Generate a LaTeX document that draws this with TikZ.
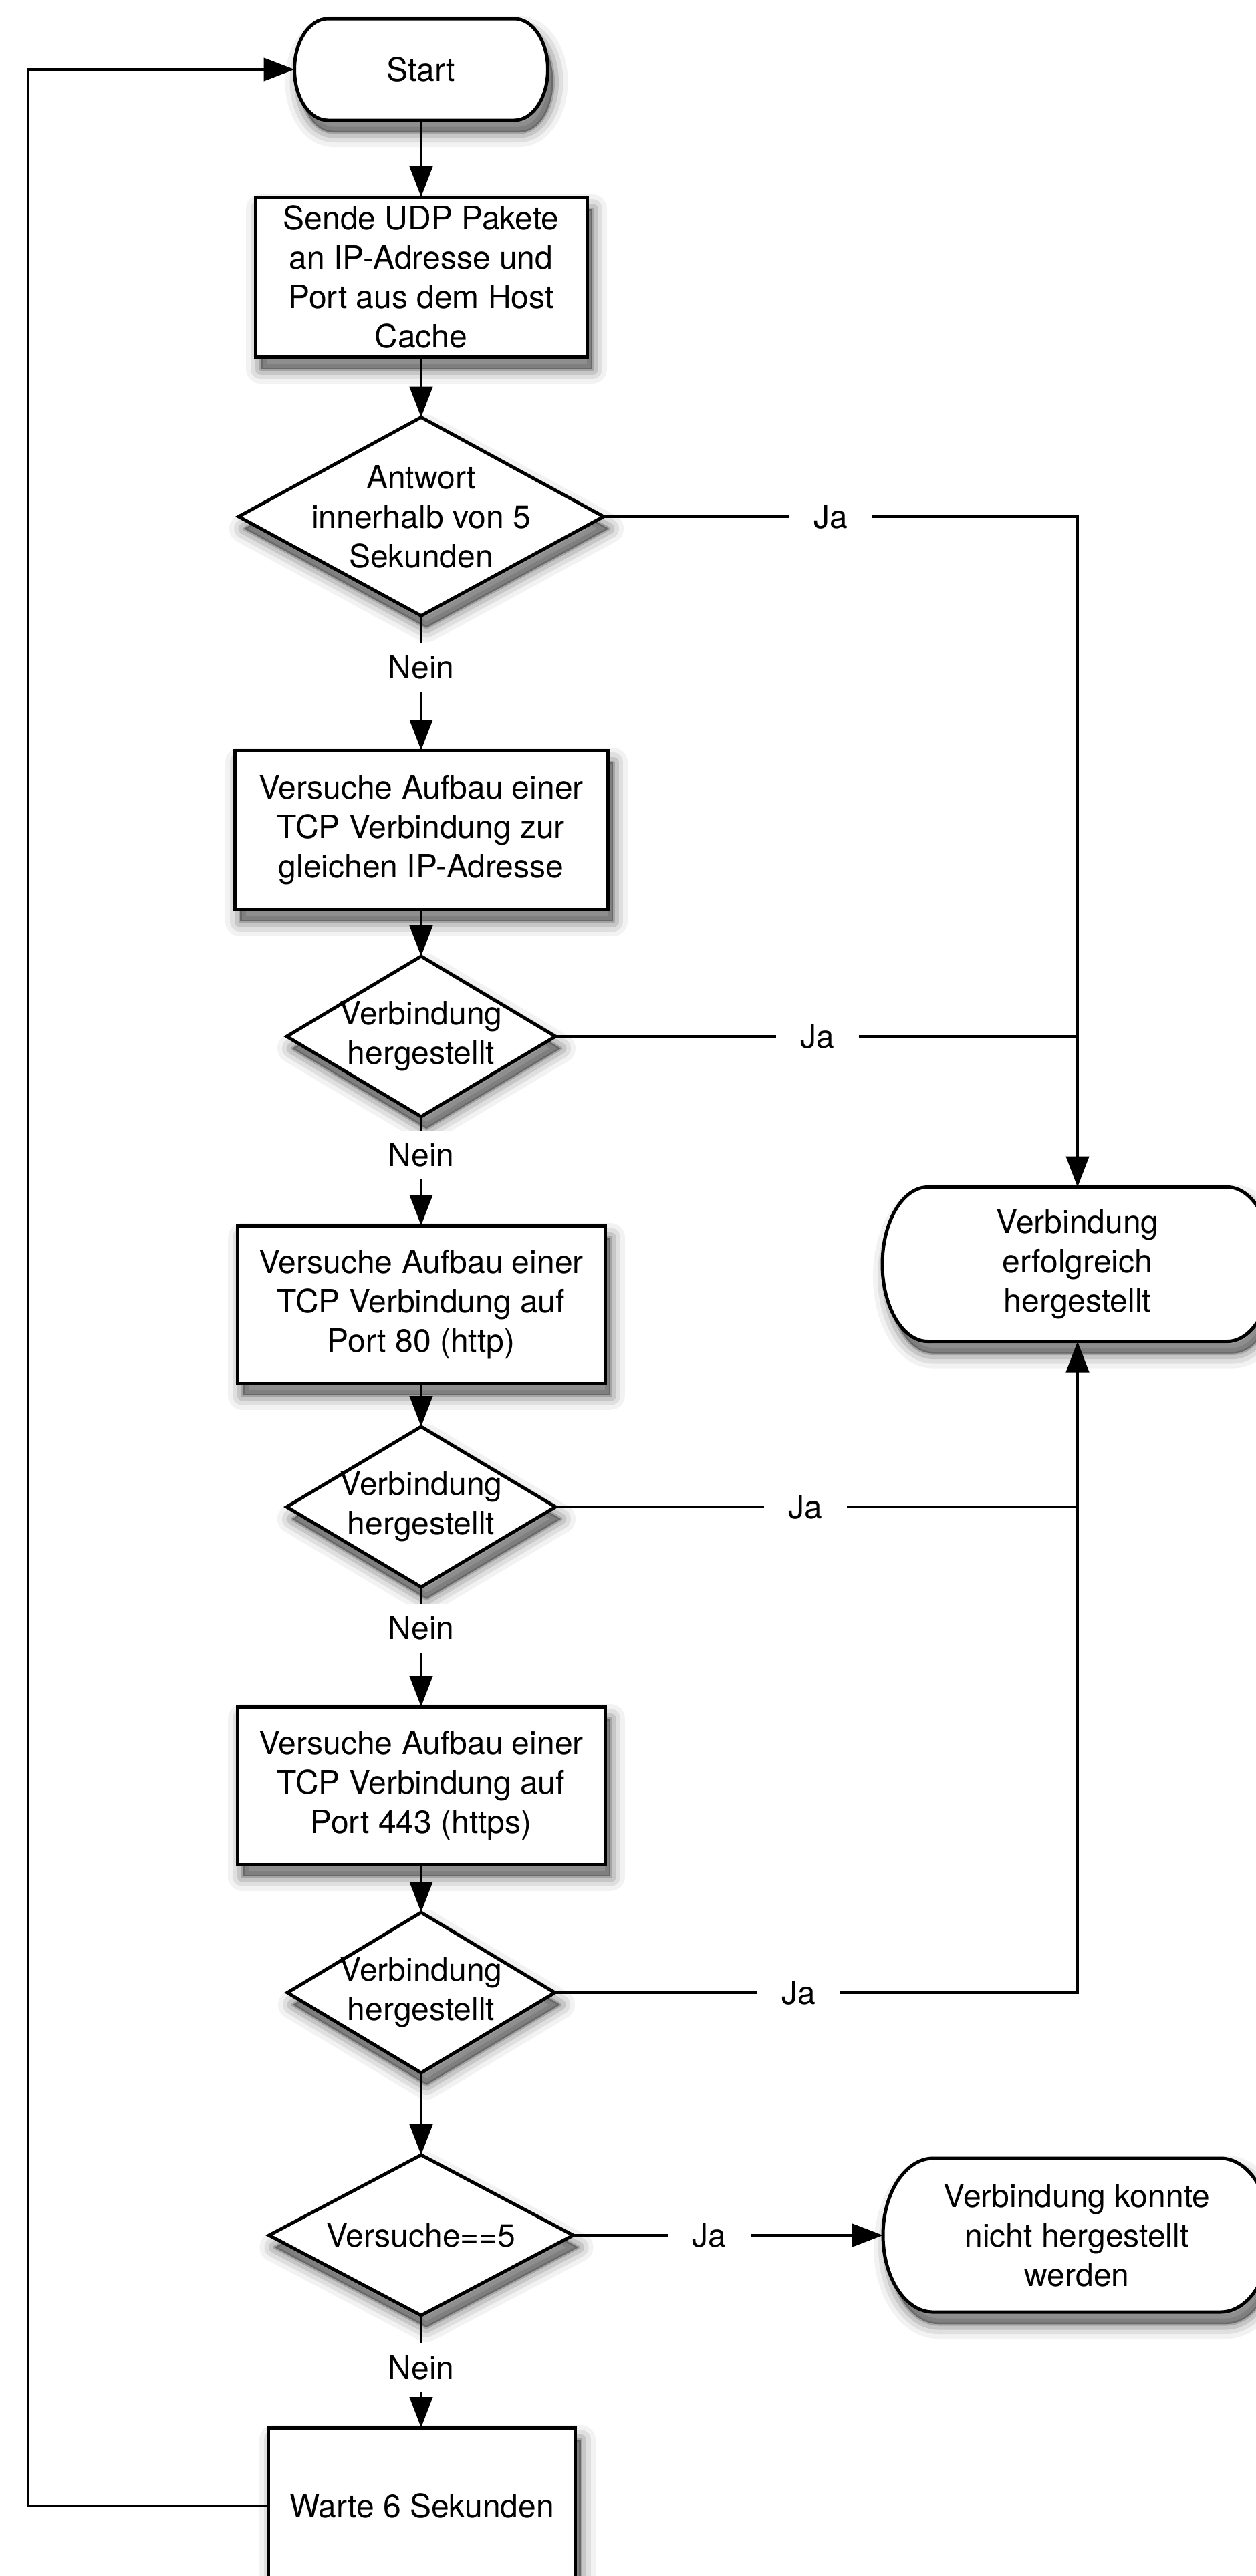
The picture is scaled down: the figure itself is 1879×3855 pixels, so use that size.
\documentclass[tikz,border=0pt]{standalone}
\usepackage{fontspec}
\setmainfont{TeX Gyre Heros}
\usetikzlibrary{shapes.geometric,arrows.meta,calc}

\tikzset{
  base/.style={font=\fontsize{48pt}{59pt}\selectfont, align=center, inner sep=0pt, outer sep=0pt},
  % layered soft shadow, offset down and to the right
  shadowlayer/.style 2 args={preaction={draw=black, fill=black, line width=#1, line join=round,
      opacity=#2, transform canvas={shift={(8pt,-18pt)}}}},
  softshadow/.style={shadowlayer={44pt}{0.05}, shadowlayer={30pt}{0.08},
      shadowlayer={17pt}{0.11}, shadowlayer={5pt}{0.17}},
  procbox/.style={base, draw=black, line width=5pt, fill=white, softshadow},
  decision/.style={diamond, draw=black, line width=5pt, fill=white, softshadow, inner sep=0pt, outer sep=0pt},
  termanchor/.style={base, draw=none},
  termline/.style={draw=black, line width=5pt, fill=white, softshadow},
  txt/.style={base},
  lbl/.style={base, fill=white, inner xsep=37pt, inner ysep=19pt, text height=35pt, text depth=0pt},
  conn/.style={line width=4.5pt, draw=black},
  arr/.style={conn, -{Triangle[length=46pt,width=34pt]}},
}

% terminator outline with elliptical ends around an anchor node
\newcommand\termpath[3]{%
  \draw[termline] ($(#1.north west)+(#2,0)$) -- ($(#1.north east)+(-#2,0)$)
    arc[start angle=90, end angle=-90, x radius=#2pt, y radius=#3pt]
    -- ($(#1.south west)+(#2,0)$)
    arc[start angle=270, end angle=90, x radius=#2pt, y radius=#3pt] -- cycle;}

\begin{document}
\begin{tikzpicture}[x=1pt,y=1pt]
\fill[white] (0,0) rectangle (1879,-3855);
\useasboundingbox (0,0) rectangle (1879,-3855);
\clip (0,0) rectangle (1879,-3855);

% ---- main column ----
\node[termanchor, minimum width=379pt, minimum height=152pt] (start) at (630,-104) {};
\termpath{start}{50}{76}
\node[txt] (startt) at (start) {Start};

\node[procbox, minimum width=496pt, minimum height=239pt] (b1) at (630,-414.5)
  {Sende UDP Pakete\\an IP-Adresse und\\Port aus dem Host\\Cache};

\node[decision, minimum width=546pt, minimum height=297pt] (d1) at (630,-773) {};
\node[txt] (d1t) at (d1) {Antwort\\innerhalb von 5\\Sekunden};

\node[procbox, minimum width=558pt, minimum height=238pt] (b2) at (630,-1242)
  {Versuche Aufbau einer\\TCP Verbindung zur\\gleichen IP-Adresse};

\node[decision, minimum width=402pt, minimum height=240pt] (d2) at (630,-1551) {};
\node[txt] (d2t) at (d2) {Verbindung\\hergestellt};

\node[procbox, minimum width=550pt, minimum height=236pt] (b3) at (630,-1952)
  {Versuche Aufbau einer\\TCP Verbindung auf\\Port 80 (http)};

\node[decision, minimum width=402pt, minimum height=240pt] (d3) at (630,-2255) {};
\node[txt] (d3t) at (d3) {Verbindung\\hergestellt};

\node[procbox, minimum width=550pt, minimum height=236pt] (b4) at (630,-2672)
  {Versuche Aufbau einer\\TCP Verbindung auf\\Port 443 (https)};

\node[decision, minimum width=400pt, minimum height=240pt] (d4) at (630,-2982) {};
\node[txt] (d4t) at (d4) {Verbindung\\hergestellt};

\node[decision, minimum width=455pt, minimum height=240pt] (d5) at (630,-3345) {};
\node[txt] (d5t) at (d5) {Versuche==5};

\node[procbox, minimum width=459pt, minimum height=234pt] (w) at (631,-3750) {Warte 6 Sekunden};

% ---- terminators on the right ----
\node[termanchor, minimum width=584pt, minimum height=231pt] (t1) at (1612,-1892) {};
\termpath{t1}{68}{115.5}
\node[txt] (t1t) at (t1) {Verbindung\\erfolgreich\\hergestellt};

\node[termanchor, minimum width=580pt, minimum height=230pt] (t2) at (1611,-3345) {};
\termpath{t2}{75}{115}
\node[txt] (t2t) at (t2) {Verbindung konnte\\nicht hergestellt\\werden};

% ---- labels ----
\node[lbl] (ja1) at (1243,-773) {Ja};
\node[lbl] (ja2) at (1223,-1551) {Ja};
\node[lbl] (ja3) at (1205,-2255) {Ja};
\node[lbl] (ja4) at (1195,-2982) {Ja};
\node[lbl] (ja5) at (1061,-3345) {Ja};
\node[lbl] (n1) at (630,-998) {Nein};
\node[lbl] (n2) at (630,-1728) {Nein};
\node[lbl] (n3) at (630,-2436) {Nein};
\node[lbl] (n5) at (630,-3543) {Nein};

% ---- connectors ----
\draw[arr] (start.south) -- (b1.north);
\draw[arr] (b1.south) -- (d1.north);
\draw[conn] (d1.south) -- (n1.north);
\draw[arr] (n1.south) -- (b2.north);
\draw[arr] (b2.south) -- (d2.north);
\draw[conn] (d2.south) -- (n2.north);
\draw[arr] (n2.south) -- (b3.north);
\draw[arr] (b3.south) -- (d3.north);
\draw[conn] (d3.south) -- (n3.north);
\draw[arr] (n3.south) -- (b4.north);
\draw[arr] (b4.south) -- (d4.north);
\draw[arr] (d4.south) -- (d5.north);
\draw[conn] (d5.south) -- (n5.north);
\draw[arr] (n5.south) -- (n5.south |- w.north);

\coordinate (j2) at (t1.north |- d2.east);
\coordinate (j3) at (t1.south |- d3.east);
\draw[conn] (d1.east) -- (ja1.west);
\draw[arr] (ja1.east) -| (t1.north);
\draw[conn] (d2.east) -- (ja2.west);
\draw[conn] (ja2.east) -- (j2);
\draw[conn] (d3.east) -- (ja3.west);
\draw[conn] (ja3.east) -- (j3);
\draw[conn] (d4.east) -- (ja4.west);
\draw[arr] (ja4.east) -| (t1.south);
\draw[conn] (d5.east) -- (ja5.west);
\draw[arr] (ja5.east) -- (t2.west);

% loop back to the start
\coordinate (fb) at (42,-3750);
\draw[arr] (w.west) -- (fb) |- (start.west);
\end{tikzpicture}
\end{document}
